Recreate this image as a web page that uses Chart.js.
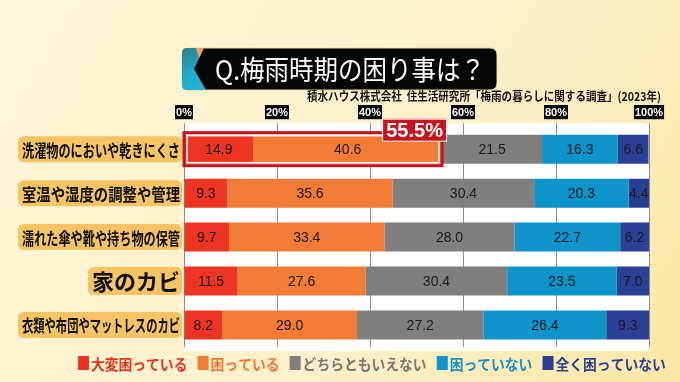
<!DOCTYPE html>
<html>
<head>
<meta charset="utf-8">
<script src="https://cdn.jsdelivr.net/npm/chart.js@4"></script>
<style>
html,body{margin:0;padding:0;background:#fdf1c6;}
canvas{display:block;}
</style>
</head>
<body>
<canvas id="grafico" width="680" height="382"></canvas>
<script>
// 梅雨時期の困り事 (積水ハウス 住生活研究所 2023)
const categorias = ["洗濯物のにおいや乾きにくさ","室温や湿度の調整や管理","濡れた傘や靴や持ち物の保管","家のカビ","衣類や布団やマットレスのカビ"];
const series = ["大変困っている","困っている","どちらともいえない","困っていない","全く困っていない"];
const muyMal = [14.9, 9.3, 9.7, 11.5, 8.2];
const mal = [40.6, 35.6, 33.4, 27.6, 29.0];
const neutro = [21.5, 30.4, 28.0, 30.4, 27.2];
const noMal = [16.3, 20.3, 22.7, 23.5, 26.4];
const nadaMal = [6.6, 4.4, 6.2, 7.0, 9.3];
const ticksX = [0, 20, 40, 60, 80, 100];

const valores = [muyMal, mal, neutro, noMal, nadaMal];
const colores = ["#ee3524","#f27b36","#7f7f7f","#0f93cb","#2b3f95"];
const coloresTexto = ["#e8321e","#f07733","#777777","#1590c8","#283f93"];

const jp = '"Noto Sans CJK JP", "Noto Sans", sans-serif';

function rr(ctx,x,y,w,h,r){
ctx.beginPath();
ctx.moveTo(x+r,y);
ctx.lineTo(x+w-r,y);
ctx.quadraticCurveTo(x+w,y,x+w,y+r);
ctx.lineTo(x+w,y+h-r);
ctx.quadraticCurveTo(x+w,y+h,x+w-r,y+h);
ctx.lineTo(x+r,y+h);
ctx.quadraticCurveTo(x,y+h,x,y+h-r);
ctx.lineTo(x,y+r);
ctx.quadraticCurveTo(x,y,x+r,y);
ctx.closePath();
}

// draws text squeezed to a width
function textoAncho(ctx,txt,x,y,maxW,align){
const w=ctx.measureText(txt).width;
const s=w>maxW?maxW/w:1;
ctx.save();
ctx.translate(x,y);
ctx.scale(s,1);
ctx.textAlign=align;
ctx.fillText(txt,0,0);
ctx.restore();
return w*s;
}

const fondo = {
id:"fondo",
beforeDraw(chart){
const ctx=chart.ctx;
const W=chart.width,H=chart.height;
ctx.save();
const g=ctx.createLinearGradient(0,0,W,H);
g.addColorStop(0,"#fef6d8");
g.addColorStop(0.55,"#fdf1cc");
g.addColorStop(1,"#fce7a6");
ctx.fillStyle=g;
ctx.fillRect(0,0,W,H);
const a=chart.chartArea;
ctx.fillStyle="#ffffff";
ctx.fillRect(a.left,a.top-4,a.right-a.left,a.bottom-a.top+8);

// title box
rr(ctx,182,48,315,42,7);
ctx.fillStyle="#050505";
ctx.fill();
ctx.strokeStyle="#e9d9a0";
ctx.lineWidth=1;
ctx.stroke();
// left decoration
ctx.beginPath();
ctx.moveTo(186,48);ctx.lineTo(204,48);ctx.lineTo(194,69);ctx.lineTo(206,90);ctx.lineTo(186,90);
ctx.quadraticCurveTo(182,90,182,84);ctx.lineTo(182,54);ctx.quadraticCurveTo(182,48,186,48);
ctx.closePath();
const gd=ctx.createLinearGradient(182,48,206,90);
gd.addColorStop(0,"#2f7f86");
gd.addColorStop(0.5,"#1ea7c8");
gd.addColorStop(1,"#2bb7d8");
ctx.fillStyle=gd;
ctx.fill();
ctx.beginPath();
ctx.moveTo(196,48);ctx.lineTo(204,48);ctx.lineTo(199,58);ctx.closePath();
ctx.fillStyle="#f0a060";
ctx.fill();

ctx.fillStyle="#ffffff";
ctx.font="27px "+jp;
ctx.textBaseline="middle";
textoAncho(ctx,"Q.梅雨時期の困り事は？",215,70,270,"left");

ctx.fillStyle="#111";
ctx.font="bold 12px "+jp;
textoAncho(ctx,"積水ハウス株式会社  住生活研究所「梅雨の暮らしに関する調査」(2023年)",661,96,354,"right");
ctx.restore();
}
};

const etiquetas = {
id:"etiquetas",
afterDatasetsDraw(chart){
const ctx=chart.ctx;
const xs=chart.scales.x,ys=chart.scales.y;
ctx.save();
ctx.textBaseline="middle";

// values inside segments
ctx.font="14px 'Liberation Sans', Arial, sans-serif";
ctx.fillStyle="#1a1a1a";
ctx.textAlign="center";
chart.data.datasets.forEach((ds,i)=>{
chart.getDatasetMeta(i).data.forEach((el,j)=>{
const cx=(el.x+el.base)/2;
ctx.fillText(ds.data[j].toFixed(1),cx,el.y+1);
});
});

// category labels
categorias.forEach((c,i)=>{
const y=ys.getPixelForValue(i);
const grande=c==="家のカビ";
ctx.font=(grande?"bold 22px ":"bold 17px ")+jp;
const maxW=158;
const w=Math.min(ctx.measureText(c).width,maxW);
const right=xs.left-2;
const h=grande?28:26;
rr(ctx,right-w-6,y-h/2,w+6,h,6);
ctx.fillStyle="#f6c462";
ctx.fill();
ctx.fillStyle="#0d0d0d";
textoAncho(ctx,c,right-2,y+1,maxW,"right");
});

// highlight of first row
const total=muyMal[0]+mal[0];
const el=chart.getDatasetMeta(0).data[0];
const x0=xs.getPixelForValue(0),x1=xs.getPixelForValue(total);
const t=el.y-el.height/2-2,b=el.y+el.height/2+2;
ctx.strokeStyle="#c3111d";
ctx.lineWidth=3;
ctx.strokeRect(x0,t,x1-x0,b-t);
ctx.strokeStyle="#ffffff";
ctx.lineWidth=1.5;
ctx.strokeRect(x0+3,t+3,x1-x0-6,b-t-6);

// badge
const bw=65,bh=23;
const bx=x1+5-bw,by=t-14;
ctx.fillStyle="#c8141e";
ctx.fillRect(bx,by,bw,bh);
ctx.strokeStyle="#ffffff";
ctx.lineWidth=1;
ctx.strokeRect(bx+0.5,by+0.5,bw-1,bh-1);
ctx.fillStyle="#ffffff";
ctx.font="bold 20px 'Liberation Sans', Arial, sans-serif";
ctx.textAlign="center";
ctx.fillText(total.toFixed(1)+"%",bx+bw/2,by+bh/2+1);

// legend
ctx.font="bold 15px "+jp;
let lx=78;
const ly=363;
const anchos=series.map(s=>ctx.measureText(s).width);
const totalW=anchos.reduce((a,b)=>a+b,0)+series.length*14+(series.length-1)*10;
const esc=Math.min(1,583/totalW);
series.forEach((s,i)=>{
ctx.fillStyle=colores[i];
ctx.fillRect(lx,ly-7,11,14);
lx+=13;
ctx.fillStyle=coloresTexto[i];
lx+=textoAncho(ctx,s,lx,ly+1,anchos[i]*esc,"left");
lx+=10*esc+1;
});
ctx.restore();
}
};

new Chart(document.getElementById("grafico"),{
type:"bar",
data:{
labels:categorias,
datasets:series.map((s,i)=>({
label:s,
data:valores[i],
backgroundColor:colores[i],
borderWidth:0,
barPercentage:0.66,
categoryPercentage:1
}))
},
options:{
indexAxis:"y",
responsive:false,
animation:false,
layout:{padding:{top:102,right:31,bottom:35,left:0}},
scales:{
x:{
position:"top",
stacked:true,
min:0,
max:100,
afterBuildTicks:s=>{s.ticks=ticksX.map(v=>({value:v}));},
ticks:{
callback:v=>v+"%",
color:"#ffffff",
font:{family:"'Liberation Sans Narrow', 'Liberation Sans', sans-serif",size:11,weight:"bold"},
showLabelBackdrop:true,
backdropColor:"#000000",
backdropPadding:{top:1,bottom:0,left:1,right:1},
padding:4,
maxRotation:0
},
grid:{color:"#8c8c8c",lineWidth:1,tickLength:4,drawTicks:true},
border:{display:false}
},
y:{
stacked:true,
ticks:{display:false},
grid:{display:false},
border:{display:false},
afterFit:s=>{s.width=184;}
}
},
plugins:{legend:{display:false},tooltip:{enabled:false}}
},
plugins:[fondo,etiquetas]
});
</script>
</body>
</html>
